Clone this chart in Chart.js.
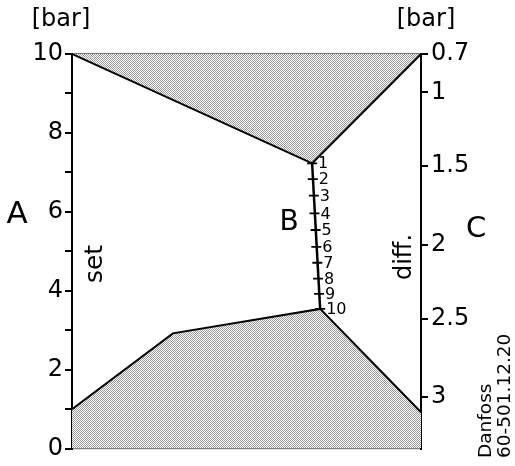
<!DOCTYPE html>
<html>
<head>
<meta charset="utf-8">
<script src="https://cdn.jsdelivr.net/npm/chart.js@4"></script>
<style>
html,body{margin:0;padding:0;background:#fff;}
#wrap{width:515px;height:466px;position:relative;}
</style>
</head>
<body>
<div id="wrap"><canvas id="c"></canvas></div>
<script>
// ---- data (x: 0 = scale A, 1 = scale C; y in A-scale bar units) ----
const aTicks = [0, 1, 2, 3, 4, 5, 6, 7, 8, 9, 10];
const aLabels = ['0', '', '2', '', '4', '', '6', '', '8', '', '10'];
const cTickLabels = ['0.7', '1', '1.5', '2', '2.5', '3'];
const cTickPos = [10, 9.03, 7.16, 5.16, 3.29, 1.32];
const bLabels = ['1', '2', '3', '4', '5', '6', '7', '8', '9', '10'];
const bTickX = [0.688, 0.690, 0.693, 0.695, 0.698, 0.700, 0.703, 0.705, 0.708, 0.711];
const bTickY = [7.23, 6.83, 6.41, 5.96, 5.54, 5.11, 4.71, 4.31, 3.92, 3.54];
const topBoundX = [0, 0.688, 1];
const topBoundY = [10, 7.23, 10];
const botBoundX = [0, 0.289, 0.711, 1];
const botBoundY = [1.0, 2.92, 3.54, 0.92];

const FONT = "'DejaVu Sans', sans-serif";

function makePattern() {
  const p = document.createElement('canvas');
  p.width = 2; p.height = 2;
  const g = p.getContext('2d');
  g.fillStyle = '#ffffff'; g.fillRect(0, 0, 2, 2);
  g.fillStyle = '#9a9a9a'; g.fillRect(0, 0, 1, 1); g.fillRect(1, 1, 1, 1);
  return document.getElementById('c').getContext('2d').createPattern(p, 'repeat');
}
const pattern = makePattern();

const pts = (xs, ys) => xs.map((x, i) => ({x: x, y: ys[i]}));

const textPlugin = {
  id: 'texts',
  afterDatasetsDraw(chart) {
    const ctx = chart.ctx;
    const xs = chart.scales.x, ys = chart.scales.y;
    ctx.save();
    ctx.fillStyle = '#000';
    // B scale labels
    ctx.font = '16px ' + FONT;
    ctx.textAlign = 'left';
    ctx.textBaseline = 'middle';
    bLabels.forEach((l, i) => {
      ctx.fillText(l, xs.getPixelForValue(bTickX[i]) + 6, ys.getPixelForValue(bTickY[i]) + 1);
    });
    // units
    ctx.font = '24px ' + FONT;
    ctx.textAlign = 'center';
    ctx.fillText('[bar]', 61, 20);
    ctx.fillText('[bar]', 426, 20);
    // scale letters
    ctx.font = '31px ' + FONT;
    ctx.fillText('A', 17, 215);
    ctx.font = '28px ' + FONT;
    ctx.fillText('B', 289, 223);
    ctx.font = '29px ' + FONT;
    ctx.fillText('C', 476, 229);
    // rotated texts
    const rot = (txt, x, y, size, align) => {
      ctx.save();
      ctx.translate(x, y);
      ctx.rotate(-Math.PI / 2);
      ctx.font = size + 'px ' + FONT;
      ctx.textAlign = align;
      ctx.textBaseline = 'alphabetic';
      ctx.fillText(txt, 0, 0);
      ctx.restore();
    };
    rot('set', 102, 264, 25, 'center');
    rot('diff.', 411, 257, 24, 'center');
    rot('Danfoss', 491, 458, 18.5, 'left');
    rot('60-501.12.20', 510, 458, 18.5, 'left');
    ctx.restore();
  }
};

new Chart(document.getElementById('c'), {
  type: 'line',
  data: {
    datasets: [
      {
        data: pts(topBoundX, topBoundY),
        fill: 'end',
        backgroundColor: pattern,
        borderColor: '#000',
        borderWidth: 2,
        pointRadius: 0,
        tension: 0
      },
      {
        data: pts(botBoundX, botBoundY),
        fill: 'start',
        backgroundColor: pattern,
        borderColor: '#000',
        borderWidth: 2,
        pointRadius: 0,
        tension: 0
      },
      {
        data: pts([bTickX[0], bTickX[bTickX.length - 1]], [bTickY[0], bTickY[bTickY.length - 1]]),
        fill: false,
        borderColor: '#000',
        borderWidth: 2.5,
        pointRadius: 0
      },
      {
        data: pts(bTickX, bTickY),
        showLine: false,
        fill: false,
        pointStyle: 'line',
        pointRadius: 5,
        pointBorderWidth: 1.8,
        pointBorderColor: '#000',
        borderColor: '#000'
      }
    ]
  },
  options: {
    responsive: true,
    maintainAspectRatio: false,
    animation: false,
    events: [],
    layout: {padding: 0},
    plugins: {legend: {display: false}, tooltip: {enabled: false}},
    scales: {
      x: {
        type: 'linear', position: 'bottom', min: 0, max: 1,
        ticks: {display: false},
        grid: {display: false, drawTicks: false},
        border: {display: true, color: '#777', width: 1.2, dash: [9, 4]},
        afterFit: s => { s.height = 11; }
      },
      x2: {
        type: 'linear', position: 'top', min: 0, max: 1,
        ticks: {display: false},
        grid: {display: false, drawTicks: false},
        border: {display: true, color: '#777', width: 1.2, dash: [9, 4]},
        afterFit: s => { s.height = 54; }
      },
      y: {
        type: 'linear', position: 'left', min: 0, max: 10,
        afterBuildTicks: s => { s.ticks = aTicks.map(v => ({value: v})); },
        ticks: {
          autoSkip: false, color: '#000', padding: 2,
          font: {family: FONT, size: 24},
          callback: (v, i) => aLabels[i]
        },
        grid: {drawOnChartArea: false, drawTicks: true, tickLength: 7, color: '#000', lineWidth: 2},
        border: {display: true, color: '#000', width: 2},
        afterFit: s => { s.width = 72; }
      },
      y2: {
        type: 'linear', position: 'right', min: 0, max: 10,
        afterBuildTicks: s => { s.ticks = cTickPos.map(v => ({value: v})); },
        ticks: {
          autoSkip: false, color: '#000', padding: 3,
          font: {family: FONT, size: 24},
          callback: (v, i) => cTickLabels[i]
        },
        grid: {drawOnChartArea: false, drawTicks: true, tickLength: 7, color: '#000', lineWidth: 2},
        border: {display: true, color: '#000', width: 2},
        afterFit: s => { s.width = 94; }
      }
    }
  },
  plugins: [textPlugin]
});
</script>
</body>
</html>
